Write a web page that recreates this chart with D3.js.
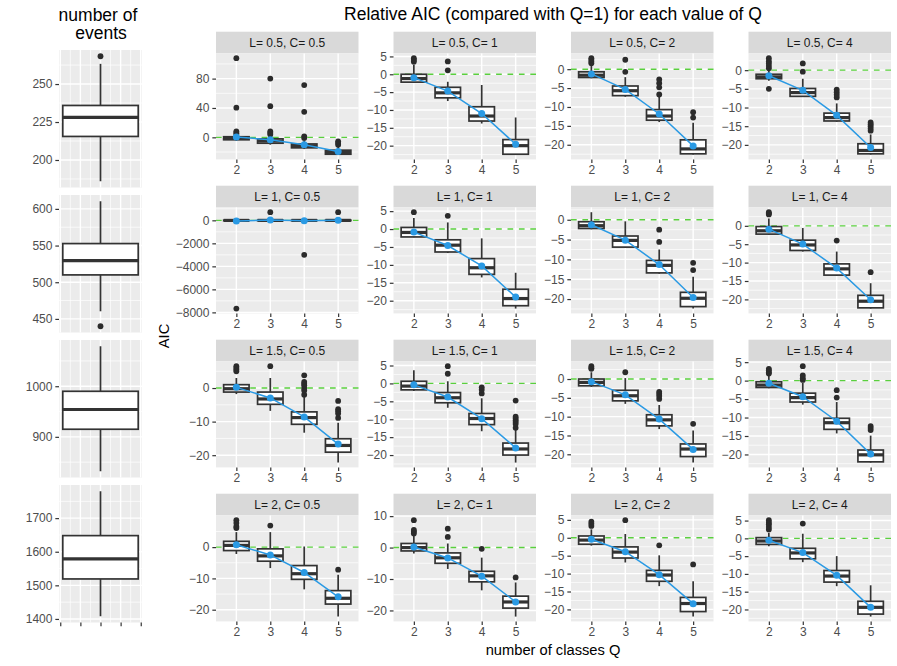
<!DOCTYPE html>
<html>
<head>
<meta charset="utf-8">
<script src="https://cdn.jsdelivr.net/npm/d3@7"></script>
<style>
  body { margin: 0; background: #fff; }
</style>
</head>
<body>
<svg id="chart" width="897" height="666"></svg>
<script>
// categories
const classes = [2, 3, 4, 5];
const lValues = ['0.5', '1', '1.5', '2'];
const cValues = ['0.5', '1', '2', '4'];

// box stats [lower whisker, Q1, median, Q3, upper whisker]; one row per C, one box per Q
const boxesL05 = [
  [[-4.5, -3.3, -1.5, 0.8, 3], [-10, -8, -5, -2, 2], [-16, -14.3, -11.5, -9, -4], [-23.5, -23, -20.5, -17.5, -13]],
  [[-2.4, -2.2, -1.2, 0, 2.6], [-7.5, -6.6, -5.2, -3.65, -2.1], [-13.8, -13.1, -11.7, -9.1, -3], [-22.5, -22.4, -20, -18.3, -12.1]],
  [[-2.4, -2.2, -1.6, -0.7, 1.1], [-7.3, -7, -5.7, -4.45, -2.1], [-14, -13.5, -12.4, -10.7, -7.3], [-22.6, -22.4, -21.1, -18.7, -14.2]],
  [[-2.8, -2.3, -1.8, -1.1, 0], [-7.1, -7, -6, -4.9, -2.3], [-13.8, -13.6, -12.7, -11.5, -8.9], [-22.6, -22.4, -21.5, -19.7, -17.2]]
];
const boxesL1 = [
  [[-50, -25, -8, 8, 35], [-50, -25, -5, 10, 40], [-50, -25, -8, 8, 35], [-50, -25, -5, 10, 40]],
  [[-2.3, -2.2, -0.95, 0.45, 3.1], [-6.7, -6.4, -4.5, -3, 1.85], [-13.5, -12.65, -10.8, -8.25, -2.6], [-22.2, -21.4, -19.4, -16.8, -12.2]],
  [[-2.4, -2.2, -1.5, -0.5, 1.9], [-7.1, -6.9, -5.2, -4.1, -0.4], [-13.6, -13.4, -11.5, -10.25, -7.5], [-22.4, -21.9, -19.8, -18.3, -14.4]],
  [[-2.4, -2.25, -1.35, -0.2, 2], [-7, -6.7, -5.2, -3.9, -0.6], [-13.6, -13.4, -11.7, -10.35, -7], [-22.5, -22.3, -20.5, -18.9, -15.6]]
];
const boxesL15 = [
  [[-1.8, -1.2, -0.2, 1, 3], [-6.8, -4.85, -3.25, -1.2, 3], [-13.3, -10.8, -8.8, -7.1, -2.7], [-22.2, -19.1, -17.1, -15.1, -10.3]],
  [[-2.1, -1.8, -0.75, 0.6, 3.7], [-6.8, -5.4, -4, -2.55, 0.6], [-13.35, -11.5, -9.8, -8.4, -4.15], [-22.1, -20, -18.3, -16.65, -12.9]],
  [[-2.1, -1.8, -0.9, 0, 1.8], [-6.6, -5.8, -4.45, -3, 0.25], [-13.3, -12.45, -10.85, -9.5, -6.9], [-22.2, -20.6, -18.6, -17.25, -13.7]],
  [[-2.1, -1.85, -1.2, -0.3, 1.4], [-6.5, -5.8, -4.6, -3.4, -0.6], [-14.3, -13.2, -11.4, -10.2, -5.8], [-22.2, -22, -20.1, -18.8, -14.9]]
];
const boxesL2 = [
  [[-2.2, -1.1, 0.55, 1.85, 4.8], [-6.7, -4.5, -2.8, -0.55, 4.8], [-13.5, -10.3, -8.5, -5.9, 0.2], [-22.2, -18.2, -16.35, -13.9, -8.8]],
  [[-1.9, -1.07, 0, 1.3, 3.7], [-6.8, -5, -3.25, -1.7, 1.3], [-13.6, -10.9, -9, -7.55, -3.2], [-21.95, -19.25, -17.3, -15.45, -11.1]],
  [[-2.2, -1.8, -0.65, 0.5, 2.35], [-6.9, -5.65, -4, -2.55, 1.05], [-13.5, -12.15, -10.4, -9.1, -4.9], [-22, -20.6, -18.35, -16.65, -12.15]],
  [[-2.2, -1.7, -0.75, 0.2, 1.6], [-6.7, -5.75, -4.1, -2.8, 1.3], [-13.45, -12.3, -10.6, -9.05, -5], [-22, -21.3, -19.4, -17.7, -13.2]]
];

// outliers per box
const outliersL05 = [
  [[4.6, 6, 8.2, 40.4, 107.8], [3.7, 6, 8, 42.5, 80], [-0.8, 1.4, 34.8, 71.2], [-10, -7.7, -5.5]],
  [[3.5, 4, 4.5], [1.1, 3.6], [], []],
  [[1.6, 2, 2.5, 2.9], [-0.7, 2.5], [-6.7, -4.8, -3.7, -2.7], [-12.8, -11.4]],
  [[-5, 0.5, 1.1, 1.8, 2.4, 3.2], [-0.4, 1.8], [-7.3, -6.6, -5.9, -5.2], [-16.2, -15.6, -15, -14.5, -14]]
];
const outliersL1 = [
  [[-7670], [705], [-3000], [705]],
  [[4.7], [3.7], [], []],
  [[], [], [-5.6, -2.5], [-12.7, -10.85]],
  [[3.1, 3.4, 3.7], [], [-4], [-12.6]]
];
const outliersL15 = [
  [[5, 5.5, 6, 6.5], [6.5], [-2, -0.7, 0, 0.8, 1.3, 1.8, 3.8], [-8.9, -7.6, -6.9, -6.3, -3.85]],
  [[], [2.7, 4.8], [-2.8, -1.8, -1.1], [-12.4, -11.3, -10.8, -10.3, -9.8, -9.3, -4.8]],
  [[2.7, 2.9, 3.4], [1.8], [-5.3, -4.5, -3.9, -3.4], [-11.9]],
  [[1.9, 2.3, 2.8, 3.2], [0.2, 0.65, 1.4, 3.9], [-4.6, -2.6], [-13.4, -12.8, -12.3]]
];
const outliersL2 = [
  [[6.1, 6.6, 7.7, 8.6], [6.9], [], [-7.2]],
  [[4.5, 5.1, 5.6, 8.7], [3.4, 6], [-0.4], [-9.5]],
  [[3.3, 3.9, 4.5], [4.9], [-2.1], [-7.45]],
  [[2.5, 3.2, 4, 4.4, 5.1], [4.15], [], []]
];

// mean relative AIC (blue points)
const meansL05 = [[0.5, -3.2, -10, -19.2], [-0.95, -4.7, -11, -19.6], [-1.25, -5.35, -11.85, -20.3], [-1.5, -5.4, -12.1, -20.7]];
const meansL1 = [[-60, 30, -30, 0], [-0.85, -4.6, -10.3, -19], [-1.25, -5.15, -11.3, -19.6], [-0.9, -4.95, -11.5, -20.1]];
const meansL15 = [[0.2, -2.95, -8.6, -16.7], [-0.4, -3.8, -9.85, -18], [-0.7, -4.2, -10.65, -18.7], [-0.7, -4.35, -11, -19.9]];
const meansL2 = [[0.75, -2.5, -8.1, -15.9], [0.2, -3.3, -9.1, -17.3], [-0.4, -3.9, -10.3, -18.4], [-0.55, -4, -10.4, -19.4]];

// y tick labels per panel
const ticksL05 = [[0, 40, 80], [-20, -15, -10, -5, 0, 5], [-20, -15, -10, -5, 0], [-20, -15, -10, -5, 0]];
const ticksL1 = [[-8000, -6000, -4000, -2000, 0], [-20, -15, -10, -5, 0, 5], [-20, -15, -10, -5, 0], [-20, -15, -10, -5, 0]];
const ticksL15 = [[-20, -10, 0], [-20, -15, -10, -5, 0, 5], [-20, -15, -10, -5, 0], [-20, -15, -10, -5, 0, 5]];
const ticksL2 = [[-20, -10, 0], [-20, -10, 0, 10], [-20, -15, -10, -5, 0, 5], [-20, -15, -10, -5, 0, 5]];

// number of events, one box per L
const eventStats = [[186, 215.5, 228.1, 235.9, 263.3], [460.4, 510, 529.5, 552.7, 610.4], [832, 915, 954, 990, 1079], [1408, 1519, 1579, 1648, 1780]];
const eventOutliers = [[268.3], [440], [], []];
const eventTicks = [[200, 225, 250], [450, 500, 550, 600], [900, 1000], [1400, 1500, 1600, 1700, 1800]];
const eventXTicks = [-0.4, -0.2, 0, 0.2, 0.4];

const boxesByL = [boxesL05, boxesL1, boxesL15, boxesL2];
const outliersByL = [outliersL05, outliersL1, outliersL15, outliersL2];
const meansByL = [meansL05, meansL1, meansL15, meansL2];
const ticksByL = [ticksL05, ticksL1, ticksL15, ticksL2];

const FONT = '"Liberation Sans", Arial, Helvetica, sans-serif';
const BLUE = '#2A9AE4';
const GREEN = '#5ACF3E';
const INK = '#333333';

const svg = d3.select('#chart');
svg.append('rect').attr('width', 897).attr('height', 666).attr('fill', '#fff');

// layout
const mainX0 = 216, colStep = 177.5, panelW = 142.5;
const rowTop0 = 31.7, rowStep = 154, stripH = 21.7, panelH = 106;
const leftX0 = 59, leftW = 83, leftTop0 = 50, leftStep = 145, leftH = 137.5;

function styleAxis(ax) {
  ax.attr('font-family', FONT).attr('font-size', 12);
  ax.select('.domain').remove();
  ax.selectAll('line').attr('stroke', INK).attr('stroke-width', 1.2);
  ax.selectAll('text').attr('fill', '#4D4D4D');
}

function drawPanel(g, p) {
  const all = p.boxes.flatMap(b => [b[0], b[4]]).concat(p.outliers.flat(), p.means || []);
  const [lo, hi] = d3.extent(all);
  const pad = (hi - lo) * 0.05;
  const y = d3.scaleLinear().domain([lo - pad, hi + pad]).range([p.h, 0]);
  const dom = y.domain();

  g.append('rect').attr('width', p.w).attr('height', p.h).attr('fill', '#EBEBEB');

  // grid
  const t = p.ticks.slice().sort((a, b) => a - b);
  const shown = t.filter(v => v >= dom[0] && v <= dom[1]);
  const st = t[1] - t[0];
  const minorY = d3.range(t[0] - st / 2, t[t.length - 1] + st, st).filter(v => v >= dom[0] && v <= dom[1]);
  g.selectAll('.minor-y').data(minorY).enter().append('line')
    .attr('x1', 0).attr('x2', p.w).attr('y1', d => y(d)).attr('y2', d => y(d))
    .attr('stroke', '#fff').attr('stroke-width', 0.7);
  (p.xMinor || []).forEach(v => {
    g.append('line').attr('x1', p.x(v)).attr('x2', p.x(v)).attr('y1', 0).attr('y2', p.h)
      .attr('stroke', '#fff').attr('stroke-width', 0.7);
  });
  g.selectAll('.major-y').data(shown).enter().append('line')
    .attr('x1', 0).attr('x2', p.w).attr('y1', d => y(d)).attr('y2', d => y(d))
    .attr('stroke', '#fff').attr('stroke-width', 1.4);
  p.xMajor.forEach(v => {
    g.append('line').attr('x1', p.x(v)).attr('x2', p.x(v)).attr('y1', 0).attr('y2', p.h)
      .attr('stroke', '#fff').attr('stroke-width', 1.4);
  });

  // reference line at 0
  if (p.hline) {
    g.append('line').attr('x1', 0).attr('x2', p.w).attr('y1', y(0)).attr('y2', y(0))
      .attr('stroke', GREEN).attr('stroke-width', 1.4).attr('stroke-dasharray', '5.7,5.7');
  }

  // boxplots
  p.boxes.forEach((b, i) => {
    const cx = p.x(p.xs[i]);
    const bg = g.append('g');
    bg.append('line').attr('x1', cx).attr('x2', cx).attr('y1', y(b[0])).attr('y2', y(b[1]))
      .attr('stroke', INK).attr('stroke-width', 1.7);
    bg.append('line').attr('x1', cx).attr('x2', cx).attr('y1', y(b[3])).attr('y2', y(b[4]))
      .attr('stroke', INK).attr('stroke-width', 1.7);
    bg.append('rect').attr('x', cx - p.bw / 2).attr('width', p.bw)
      .attr('y', y(b[3])).attr('height', Math.max(0.01, y(b[1]) - y(b[3])))
      .attr('fill', '#fff').attr('stroke', INK).attr('stroke-width', 1.7);
    bg.append('line').attr('x1', cx - p.bw / 2).attr('x2', cx + p.bw / 2).attr('y1', y(b[2])).attr('y2', y(b[2]))
      .attr('stroke', INK).attr('stroke-width', 3.2);
    bg.selectAll('circle').data(p.outliers[i]).enter().append('circle')
      .attr('cx', cx).attr('cy', d => y(d)).attr('r', 2.9).attr('fill', '#2b2b2b');
  });

  // means
  if (p.means) {
    const line = d3.line().x((d, i) => p.x(p.xs[i])).y(d => y(d));
    g.append('path').datum(p.means).attr('d', line)
      .attr('fill', 'none').attr('stroke', BLUE).attr('stroke-width', 1.5);
    g.selectAll('.mean').data(p.means).enter().append('circle')
      .attr('cx', (d, i) => p.x(p.xs[i])).attr('cy', d => y(d)).attr('r', 3.5).attr('fill', BLUE);
  }

  const yAxis = g.append('g')
    .call(d3.axisLeft(y).tickValues(shown).tickFormat(d3.format('')).tickSize(3.67).tickPadding(2.9));
  styleAxis(yAxis);
}

// facet panels
const xPoint = d3.scalePoint().domain(classes).range([0, panelW]).padding(0.6);
const bwMain = xPoint.step() * 0.75;

lValues.forEach((L, r) => {
  cValues.forEach((C, c) => {
    const g = svg.append('g')
      .attr('transform', `translate(${mainX0 + c * colStep}, ${rowTop0 + r * rowStep + stripH})`);

    // strip
    g.append('rect').attr('y', -stripH).attr('width', panelW).attr('height', stripH).attr('fill', '#D9D9D9');
    g.append('text').attr('x', panelW / 2).attr('y', -stripH / 2).attr('dy', '0.35em')
      .attr('text-anchor', 'middle').attr('font-family', FONT).attr('font-size', 12)
      .attr('fill', '#1A1A1A').text(`L= ${L}, C= ${C}`);

    drawPanel(g, {
      w: panelW, h: panelH, x: xPoint, xs: classes, bw: bwMain,
      boxes: boxesByL[r][c], outliers: outliersByL[r][c], means: meansByL[r][c],
      ticks: ticksByL[r][c], xMajor: classes, hline: true
    });

    const xAxis = g.append('g').attr('transform', `translate(0, ${panelH})`)
      .call(d3.axisBottom(xPoint).tickSize(3.67).tickPadding(2.9));
    styleAxis(xAxis);
  });
});

// number of events column
const xEvents = d3.scaleLinear().domain([-0.4125, 0.4125]).range([0, leftW]);
const bwEvents = xEvents(0.375) - xEvents(-0.375);

eventStats.forEach((s, r) => {
  const g = svg.append('g').attr('transform', `translate(${leftX0}, ${leftTop0 + r * leftStep})`);
  drawPanel(g, {
    w: leftW, h: leftH, x: xEvents, xs: [0], bw: bwEvents,
    boxes: [s], outliers: [eventOutliers[r]], means: null,
    ticks: eventTicks[r], xMajor: eventXTicks, xMinor: [-0.3, -0.1, 0.1, 0.3], hline: false
  });
  if (r === eventStats.length - 1) {
    const xAxis = g.append('g').attr('transform', `translate(0, ${leftH})`)
      .call(d3.axisBottom(xEvents).tickValues(eventXTicks).tickFormat(() => '').tickSize(3.67));
    styleAxis(xAxis);
  }
});

// titles
svg.append('text').attr('x', 553).attr('y', 20).attr('text-anchor', 'middle')
  .attr('font-family', FONT).attr('font-size', 17.5).attr('fill', '#000')
  .text('Relative AIC (compared with Q=1) for each value of Q');
svg.append('text').attr('x', 98).attr('y', 21).attr('text-anchor', 'middle')
  .attr('font-family', FONT).attr('font-size', 17.5).attr('fill', '#000').text('number of');
svg.append('text').attr('x', 101).attr('y', 39).attr('text-anchor', 'middle')
  .attr('font-family', FONT).attr('font-size', 17.5).attr('fill', '#000').text('events');

svg.append('text').attr('x', 553).attr('y', 655).attr('text-anchor', 'middle')
  .attr('font-family', FONT).attr('font-size', 14.7).attr('fill', '#000').text('number of classes Q');
svg.append('text').attr('transform', 'translate(164, 336) rotate(-90)').attr('dy', '0.35em')
  .attr('text-anchor', 'middle').attr('font-family', FONT).attr('font-size', 14.7)
  .attr('fill', '#000').text('AIC');
</script>
</body>
</html>
